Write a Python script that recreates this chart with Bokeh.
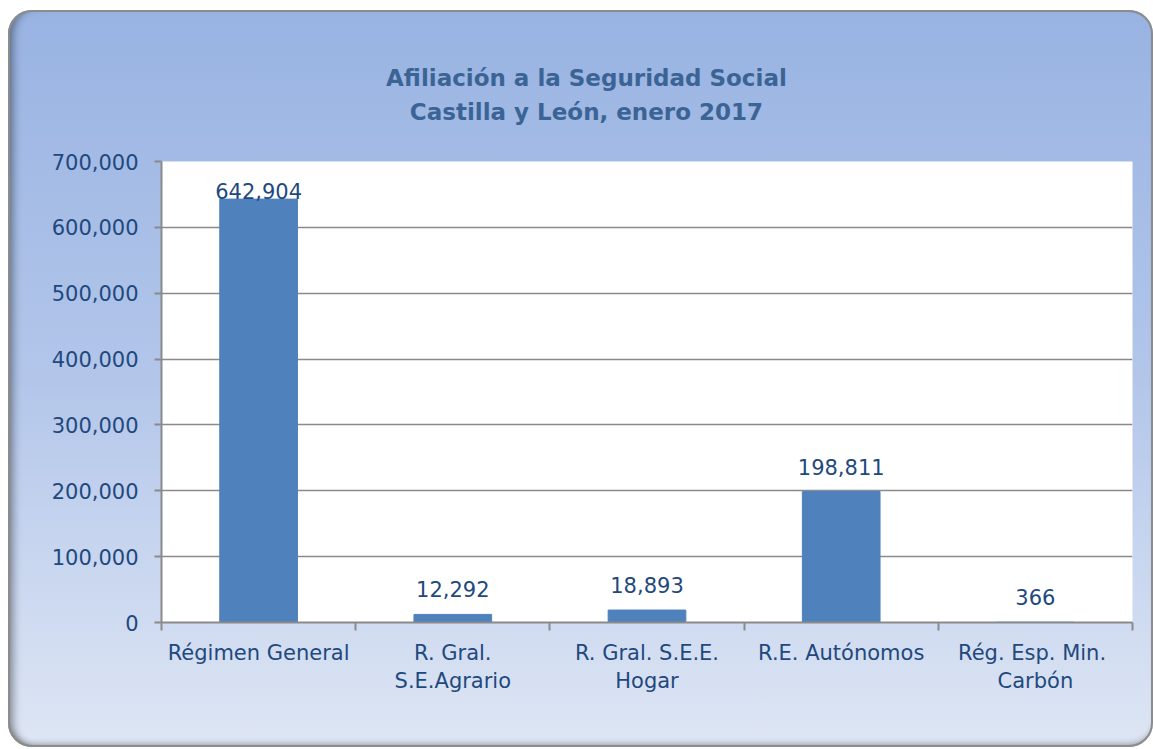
import numpy as np
from bokeh.plotting import figure
from bokeh.models import FixedTicker, NumeralTickFormatter, Range1d, LinearAxis, ColumnDataSource
from bokeh.core.properties import value
from bokeh.embed import file_html
from bokeh.resources import INLINE

# ---- data ----
categories = ["Régimen General", "R. Gral.\nS.E.Agrario", "R. Gral. S.E.E.\nHogar",
              "R.E. Autónomos", "Rég.  Esp. Min.\nCarbón"]
afiliados = [642904, 12292, 18893, 198811, 366]
title_lines = ["Afiliación a la Seguridad Social", "Castilla y León, enero 2017"]
y_ticks = [0, 100000, 200000, 300000, 400000, 500000, 600000, 700000]

FONT = "DejaVu Sans"
TXT = "#1f497d"
GRAY = "#8a8a8a"
YMAX = y_ticks[-1]

n = len(categories)
centers = list(np.arange(n) + 0.5)
boundaries = list(np.arange(n + 1))

p = figure(width=1145, height=737, output_backend="svg", toolbar_location=None,
           x_range=Range1d(0, n), y_range=Range1d(0, YMAX),
           min_border_left=153, min_border_right=21, min_border_top=151, min_border_bottom=125)
p.title.visible = False
p.border_fill_color = None
p.background_fill_color = "white"
p.outline_line_color = None
p.styles = {
    "margin-left": "8px",
    "margin-top": "10px",
    "background": "linear-gradient(180deg, #98b3e2 0%, #b3c6ea 50%, #dee6f4 100%)",
    "border-radius": "24px",
    "box-shadow": "inset 0 0 0 2px #8c8c8c, inset 10px 0 9px -5px rgba(0,0,0,0.4), inset 0 -6px 6px -3px rgba(0,0,0,0.3)",
}

src = ColumnDataSource(dict(
    x=centers, top=afiliados,
    label=[f"{v:,}" for v in afiliados],
    off=[-8 if v > 0.9 * YMAX else -25 for v in afiliados],
))
p.vbar(x="x", top="top", width=0.4, source=src, fill_color="#4f81bd", line_color="#4f81bd")
p.text(x="x", y="top", text="label", source=src, y_offset="off",
       text_align="center", text_baseline="alphabetic",
       text_font=value(FONT), text_font_size="21px", text_color=TXT)

# grid
p.xgrid.visible = False
p.ygrid.ticker = FixedTicker(ticks=y_ticks)
p.ygrid.grid_line_color = GRAY
p.ygrid.grid_line_width = 1.3

# y axis
yax = p.yaxis[0]
yax.ticker = FixedTicker(ticks=y_ticks)
yax.formatter = NumeralTickFormatter(format="0,0")
yax.axis_line_color = GRAY
yax.axis_line_width = 2
yax.major_tick_line_color = GRAY
yax.major_tick_line_width = 2
yax.major_tick_out = 7
yax.major_tick_in = 0
yax.minor_tick_line_color = None
yax.major_label_standoff = 16
yax.major_label_text_font = FONT
yax.major_label_text_font_size = "21px"
yax.major_label_text_color = TXT

# x axis
xax = p.xaxis[0]
xax.ticker = FixedTicker(ticks=centers, minor_ticks=boundaries)
xax.major_label_overrides = {c: lab for c, lab in zip(centers, categories)}
xax.axis_line_color = GRAY
xax.axis_line_width = 2
xax.major_tick_line_color = None
xax.minor_tick_line_color = GRAY
xax.minor_tick_line_width = 2
xax.minor_tick_out = 8
xax.minor_tick_in = 0
xax.major_label_standoff = 10
xax.major_label_orientation = "horizontal"
xax.major_label_text_font = FONT
xax.major_label_text_font_size = "21px"
xax.major_label_text_color = TXT
xax.major_label_text_line_height = 1.19

# two-line chart title, centred over the whole chart box
TITLE_X = 2.188
tax = LinearAxis(ticker=FixedTicker(ticks=[TITLE_X]),
                 major_label_overrides={TITLE_X: "\n".join(title_lines)})
tax.axis_line_color = None
tax.major_tick_line_color = None
tax.minor_tick_line_color = None
tax.major_tick_out = 0
tax.major_tick_in = 0
tax.major_label_standoff = 37
tax.major_label_orientation = "horizontal"
tax.major_label_text_font = FONT
tax.major_label_text_font_size = "23px"
tax.major_label_text_font_style = "bold"
tax.major_label_text_color = "#3b6495"
tax.major_label_text_line_height = 1.27
p.add_layout(tax, "above")

open("out.html", "w").write(file_html(p, INLINE))
